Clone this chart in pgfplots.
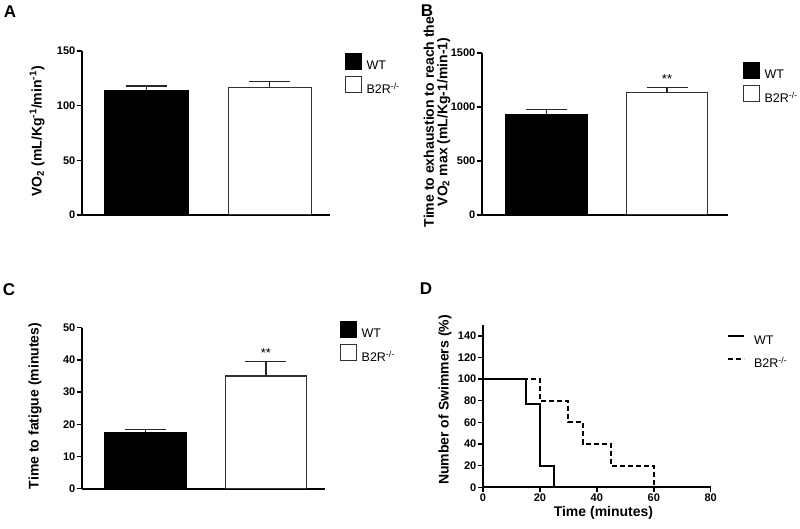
\documentclass[border=0pt]{standalone}
\usepackage{pgfplots}
\pgfplotsset{compat=1.18}
\usepackage{fontspec}
\setmainfont{Liberation Sans}
\begin{document}
\begin{tikzpicture}[x=1pt,y=1pt]
\path[use as bounding box] (0pt,0pt) rectangle (800pt,528pt);

\pgfplotsset{
  panel/.style={
    scale only axis,
    axis lines*=left,
    axis line style={line width=2pt},
    tick align=outside,
    major tick length=5pt,
    tick style={line width=1.5pt,black},
    tick label style={font=\bfseries\fontsize{11}{12}\selectfont, inner sep=1.5pt},
    /pgf/number format/assume math mode=true,
    /pgf/number format/1000 sep={},
    scaled y ticks=false,
    label style={font=\bfseries\fontsize{14}{14}\selectfont},
    legend style={draw=none, fill=none, inner sep=0pt, outer sep=0pt,
      anchor=north west, row sep=5pt,
      font=\fontsize{12.5}{13}\selectfont,
      nodes={inner sep=0pt, outer sep=0pt}},
    legend cell align=left,
  },
  bars/.style={
    panel, ybar, bar shift=0pt, xtick=\empty, ymin=0,
    major x tick style={draw=none},
  },
  boxleg/.style={legend image code/.code={
    \draw[##1,line width=1.2pt] (0pt,-3.5pt) rectangle (16pt,12.5pt);
    \path[draw=none,fill=none] (0pt,0pt) -- (21pt,0pt);}},
  lineleg/.style={legend image code/.code={
    \path[draw=none,fill=none] (0pt,-3.5pt) rectangle (26pt,12.5pt);
    \draw[##1] (0pt,4.5pt) -- (16pt,4.5pt);}},
  errs/.style={error bars/.cd, y dir=plus, y explicit, error mark=|,
    error bar style={line width=1.2pt, black!85},
    error mark options={line width=1.2pt, mark size=20.5pt, black!85}},
}

% Panel A
\begin{axis}[bars, at={(82pt,313pt)}, anchor=south west,
  width=248pt, height=164pt,
  xmin=-0.524, xmax=1.49, ymax=150, ytick={0,50,100,150},
  bar width=83pt,
  ylabel={VO\textsubscript{2} (mL/Kg\textsuperscript{-1}/min\textsuperscript{-1})},
  ylabel style={at={(axis description cs:-0.181,0.51)}, anchor=center},
  legend style={at={(1.0605,0.988)}}]
\addplot[boxleg, fill=black, draw=black, line width=1.2pt, errs]
  coordinates {(0,114) +- (0,4)};
\addplot[boxleg, fill=white, draw=black!80, line width=1.2pt, errs]
  coordinates {(1,116.5) +- (0,5.8)};
\legend{WT, B2R\textsuperscript{-/-}}
\end{axis}

% Panel B
\begin{axis}[bars, at={(482pt,313pt)}, anchor=south west,
  width=246pt, height=162pt,
  xmin=-0.535, xmax=1.506, ymax=1500, ytick={0,500,1000,1500},
  bar width=81pt,
  ylabel={Time to exhaustion to reach the\\VO\textsubscript{2} max (mL/Kg-1/min-1)},
  ylabel style={at={(axis description cs:-0.183,0.574)}, anchor=center, align=center,
    font=\bfseries\fontsize{14}{13.5}\selectfont},
  legend style={at={(1.061,0.944)}}]
\addplot[boxleg, fill=black, draw=black, line width=1.2pt, errs]
  coordinates {(0,926) +- (0,52)};
\addplot[boxleg, fill=white, draw=black!80, line width=1.2pt, errs]
  coordinates {(1,1133) +- (0,49)};
\node[anchor=base, font=\fontsize{13}{13}\selectfont] at (axis cs:1,1222) {**};
\legend{WT, B2R\textsuperscript{-/-}}
\end{axis}

% Panel C
\begin{axis}[bars, at={(82pt,39.3pt)}, anchor=south west,
  width=243pt, height=161pt,
  xmin=-0.527, xmax=1.49, ymax=50, ytick={0,10,...,50},
  bar width=81pt,
  ylabel={Time to fatigue (minutes)},
  ylabel style={at={(axis description cs:-0.193,0.514)}, anchor=center},
  legend style={at={(1.062,1.042)}}]
\addplot[boxleg, fill=black, draw=black, line width=1.2pt, errs]
  coordinates {(0,17.5) +- (0,0.8)};
\addplot[boxleg, fill=white, draw=black!80, line width=1.2pt, errs]
  coordinates {(1,35) +- (0,4.6)};
\node[anchor=base, font=\fontsize{13}{13}\selectfont] at (axis cs:1,40.9) {**};
\legend{WT, B2R\textsuperscript{-/-}}
\end{axis}

% Panel D
\begin{axis}[panel, at={(483pt,40.7pt)}, anchor=south west,
  width=227.7pt, height=162.3pt,
  xmin=0, xmax=80, ymin=0, ymax=150,
  xtick={0,20,...,80}, ytick={0,20,...,140},
  xlabel={Time (minutes)}, ylabel={Number of Swimmers (\%)},
  xlabel style={at={(axis description cs:0.529,-0.158)}, anchor=center},
  ylabel style={at={(axis description cs:-0.167,0.538)}, anchor=center},
  legend style={at={(1.072,0.981)}}]
\addplot[lineleg, const plot, line width=2pt, black]
  coordinates {(0,100) (15,77) (20,20) (25,0) (80,0)};
\addplot[lineleg, const plot, line width=2pt, black, dash pattern=on 5pt off 3pt]
  coordinates {(0,100) (20,80) (30,60) (35,40) (45,20) (60,0)};
\legend{WT, B2R\textsuperscript{-/-}}
\end{axis}

% panel letters
\node[font=\bfseries\fontsize{17}{17}\selectfont] at (10pt,516pt) {A};
\node[font=\bfseries\fontsize{17}{17}\selectfont] at (427pt,517pt) {B};
\node[font=\bfseries\fontsize{17}{17}\selectfont] at (9pt,238pt) {C};
\node[font=\bfseries\fontsize{17}{17}\selectfont] at (426pt,239pt) {D};
\end{tikzpicture}
\end{document}
